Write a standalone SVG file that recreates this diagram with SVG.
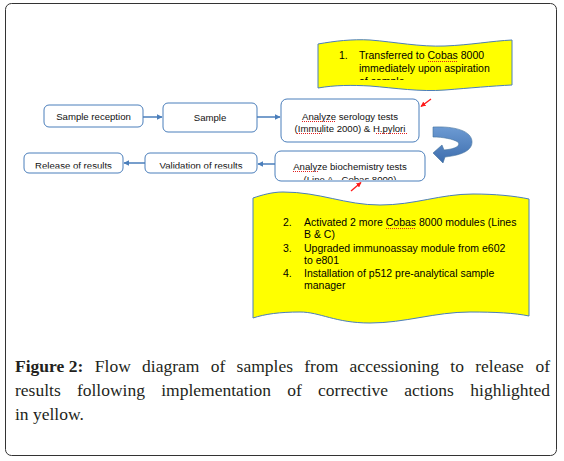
<svg xmlns="http://www.w3.org/2000/svg" width="564" height="461" viewBox="0 0 564 461">
<style>
.node{fill:#fff;stroke:#4a7ebb;stroke-width:1}
.nt{font-family:"Liberation Sans",Arial,sans-serif;font-size:9.6px;fill:#111;text-anchor:middle}
.yt{font-family:"Liberation Sans",Arial,sans-serif;font-size:10.5px;fill:#000}
.wave{fill:#ffff00;stroke:#4a7ebb;stroke-width:1}
.conn{stroke:#4a7ebb;stroke-width:1.5;fill:none}
.red{stroke:#ff1a1a;stroke-width:1.3;fill:none}
.sq{stroke:#e02020;stroke-width:1;stroke-dasharray:1 1;fill:none}
.cap{font-family:"Liberation Serif","Times New Roman",serif;font-size:17.5px;fill:#231f20}
</style>
<defs>
<marker id="ab" viewBox="0 0 10 10" refX="9" refY="5" markerWidth="4" markerHeight="4" orient="auto"><path d="M0,0 L10,5 L0,10 z" fill="#4a7ebb"/></marker>
<marker id="ar" viewBox="0 0 10 10" refX="9" refY="5" markerWidth="4" markerHeight="4" orient="auto"><path d="M0,0 L10,5 L0,10 z" fill="#ff1a1a"/></marker>
<linearGradient id="bg" x1="0" y1="0" x2="0" y2="1"><stop offset="0" stop-color="#6d9bd3"/><stop offset="1" stop-color="#3d6dad"/></linearGradient>
<clipPath id="c1"><rect x="318" y="38" width="194" height="42"/></clipPath>
<clipPath id="c2"><rect x="275" y="151" width="150" height="29"/></clipPath>
<clipPath id="c3"><rect x="24" y="153" width="99" height="15.5"/></clipPath>
<clipPath id="c4"><rect x="145" y="153" width="112" height="15.5"/></clipPath>
</defs>
<rect x="5.5" y="3.5" width="551" height="452" rx="6" fill="#fff" stroke="#333" stroke-width="1"/>

<g id="note1">
<path class="wave" d="M318,44 C335,41 352,39 370,40 C395,42 420,47 445,46 C470,45 492,41 512,40 L512,85 C492,86 470,88 445,90 C420,92 395,88 370,86 C352,85 335,85 318,88 Z"/>
<g clip-path="url(#c1)">
<text class="yt" x="339" y="59">1.</text>
<text class="yt" x="359" y="59">Transferred to Cobas 8000</text>
<text class="yt" x="359" y="72">immediately upon aspiration</text>
<text class="yt" x="359" y="85">of sample</text>
</g>
<path class="sq" d="M428,61.5 H458"/>
</g>

<g id="note2">
<path class="wave" d="M253,198 C262,195 272,192 283,192 C320,192 345,205 380,205 C415,205 440,194 473,194 C495,194 515,196 529,199 L529,316 C515,313 495,312 470,312 C435,312 405,323 370,323 C335,323 320,312 300,312 C280,312 265,314 253,318 Z"/>
<text class="yt" x="283" y="226">2.</text>
<text class="yt" x="304" y="226">Activated 2 more Cobas 8000 modules (Lines</text>
<text class="yt" x="304" y="238">B &amp; C)</text>
<text class="yt" x="283" y="252">3.</text>
<text class="yt" x="304" y="252">Upgraded immunoassay module from e602</text>
<text class="yt" x="304" y="264">to e801</text>
<text class="yt" x="283" y="277">4.</text>
<text class="yt" x="304" y="277">Installation of p512 pre-analytical sample</text>
<text class="yt" x="304" y="289">manager</text>
<path class="sq" d="M386,228.5 H416"/>
</g>

<g id="connectors">
<path class="conn" d="M143,117 H162" marker-end="url(#ab)"/>
<path class="conn" d="M257,117 H280" marker-end="url(#ab)"/>
<path class="conn" d="M275,164 H258" marker-end="url(#ab)"/>
<path class="conn" d="M145,163 H124" marker-end="url(#ab)"/>
<path class="red" d="M431,99 L421,106.5" marker-end="url(#ar)"/>
<path class="red" d="M351,191 L361,182.5" marker-end="url(#ar)"/>
<path id="curved-arrow" d="M433,127 C455,126 472,131 472,142 C472,150 463,155 445,157 L443,163 L433,153 L442,145 L444,150 C455,149 461,146 458,142 C453,139 443,137 433,137 Z" fill="url(#bg)" stroke="#41719c" stroke-width="0.6"/>
</g>

<g id="sample-reception">
<rect class="node" x="44" y="105" width="99" height="22" rx="5"/>
<text class="nt" x="93.5" y="119.5">Sample reception</text>
</g>
<g id="sample">
<rect class="node" x="163" y="103" width="94" height="29" rx="5"/>
<text class="nt" x="210" y="120.5">Sample</text>
</g>
<g id="serology">
<rect class="node" x="281" y="99" width="138" height="43" rx="6"/>
<text class="nt" x="350" y="119.5">Analyze serology tests</text>
<text class="nt" x="350" y="131.5">(Immulite 2000) &amp; H.pylori</text>
<path class="sq" d="M302,121.5 H336 M297,133.5 H323 M376,133.5 H407"/>
</g>
<g id="biochemistry">
<rect class="node" x="275" y="151" width="150" height="30" rx="6"/>
<g clip-path="url(#c2)">
<text class="nt" x="350" y="169.5">Analyze biochemistry tests</text>
<text class="nt" x="350" y="182.5">(Line A - Cobas 8000)</text>
</g>
<path class="sq" d="M293,171.5 H318"/>
</g>
<g id="validation">
<rect class="node" x="145" y="153" width="112" height="20" rx="5"/>
<text class="nt" x="201" y="169" clip-path="url(#c4)">Validation of results</text>
</g>
<g id="release">
<rect class="node" x="24" y="153" width="99" height="20" rx="5"/>
<text class="nt" x="73.5" y="169" clip-path="url(#c3)">Release of results</text>
</g>

<g id="caption">
<text class="cap" y="372"><tspan x="15" font-weight="bold">Figure 2:</tspan><tspan x="94.8">Flow</tspan><tspan x="142.1">diagram</tspan><tspan x="210.7">of</tspan><tspan x="236.6">samples</tspan><tspan x="304.3">from</tspan><tspan x="349.6">accessioning</tspan><tspan x="450.3">to</tspan><tspan x="475.2">release</tspan></text>
<text class="cap" x="550" y="372" text-anchor="end">of</text>
<text class="cap" y="396"><tspan x="15">results</tspan><tspan x="76.9">following</tspan><tspan x="161.2">implementation</tspan><tspan x="287.3">of</tspan><tspan x="318.1">corrective</tspan><tspan x="404.3">actions</tspan></text>
<text class="cap" x="550" y="396" text-anchor="end">highlighted</text>
<text class="cap" x="15" y="420">in yellow.</text>
</g>
</svg>
